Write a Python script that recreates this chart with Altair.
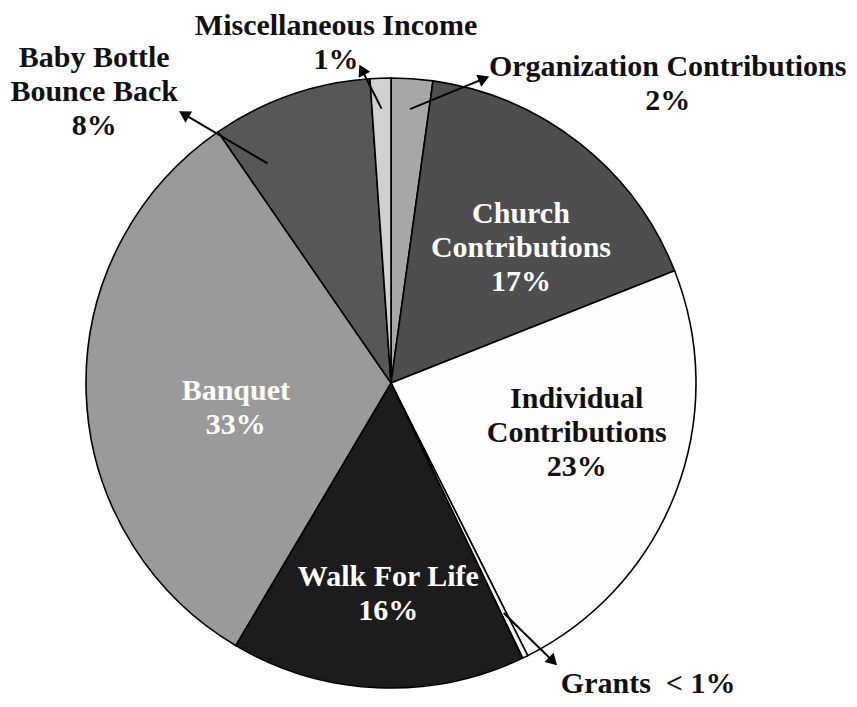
import altair as alt
import pandas as pd
import numpy as np

# ---------------- data ----------------
categories = [
    "Organization Contributions",
    "Church Contributions",
    "Individual Contributions",
    "Grants",
    "Walk For Life",
    "Banquet",
    "Baby Bottle Bounce Back",
    "Miscellaneous Income",
]
shares = [2.2, 16.8, 23.6, 0.3, 15.6, 31.9, 8.5, 1.1]
label_texts = [
    "Organization Contributions\n2%",
    "Church\nContributions\n17%",
    "Individual\nContributions\n23%",
    "Grants\u00a0\u00a0< 1%",
    "Walk For Life\n16%",
    "Banquet\n33%",
    "Baby Bottle\nBounce Back\n8%",
    "Miscellaneous Income\n1%",
]

# ---------------- style / layout ----------------
fill_colors = ["#a7a7a7", "#4e4e4e", "#fdfdfd", "#f2f2f2", "#1c1c1c", "#9a9a9a", "#575757", "#d0d0d0"]
text_colors = ["#111111", "#ffffff", "#111111", "#111111", "#ffffff", "#ffffff", "#111111", "#111111"]
# label placement relative to slice mid-angle: (angle shift in degrees, radius fraction)
label_layout = [(38.8, 1.336), (5.7, 0.615), (-5.7, 0.631), (-14.4, 1.298),
                (-1.8, 0.692), (-7.0, 0.515), (-26.3, 1.363), (-7.2, 1.129)]
# arrows: slice index -> (tail shift, tail radius, head shift, head radius)
arrow_layout = {0: (0.0, 0.90, 13.6, 1.052),
                3: (0.0, 0.84, -4.3, 1.069),
                6: (-10.1, 0.826, -18.6, 1.125),
                7: (0.0, 0.90, -3.6, 1.044)}

W, H = 841, 691
CX, CY = 383, 375          # pie centre inside the plot area (pixels)
R = 305                    # pie radius (pixels)
FS, LH = 30, 34            # font size, line height

xs = alt.Scale(domain=[-CX, W - CX], nice=False, zero=False)
ys = alt.Scale(domain=[-(H - CY), CY], nice=False, zero=False)

# ---------------- derived geometry ----------------
cum = np.concatenate([[0.0], np.cumsum(shares)])
mid_deg = (cum[:-1] + cum[1:]) / 2 / cum[-1] * 360.0


def polar(deg, rho):
    t = np.radians(deg)
    return rho * R * np.sin(t), rho * R * np.cos(t)


slices = pd.DataFrame({"category": categories, "share": shares, "idx": list(range(len(categories)))})

lab_rows = []
for i, txt in enumerate(label_texts):
    dth, rho = label_layout[i]
    x, y = polar(mid_deg[i] + dth, rho)
    n_lines = txt.count("\n") + 1
    y += (n_lines - 1) * LH / 2.0   # first line sits on the anchor: centre the block
    lab_rows.append({"text": txt, "x": x, "y": y, "tcolor": text_colors[i]})
labels = pd.DataFrame(lab_rows)

arr_rows, head_rows = [], []
for i, (tdth, trho, hdth, hrho) in arrow_layout.items():
    tx, ty = polar(mid_deg[i] + tdth, trho)
    hx, hy = polar(mid_deg[i] + hdth, hrho)
    dx, dy = hx - tx, hy - ty
    L = np.hypot(dx, dy)
    ang = np.degrees(np.arctan2(dx, dy)) % 360
    arr_rows.append({"x1": tx, "y1": ty, "x2": hx - dx / L * 8, "y2": hy - dy / L * 8})
    head_rows.append({"x": hx - dx / L * 6, "y": hy - dy / L * 6, "ang": ang})
arrows = pd.DataFrame(arr_rows)
heads = pd.DataFrame(head_rows)

# ---------------- chart ----------------
pie = alt.Chart(slices).mark_arc(outerRadius=R, stroke="#000000", strokeWidth=1.6).encode(
    theta=alt.Theta("share:Q", stack=True),
    color=alt.Color("category:N", scale=alt.Scale(domain=categories, range=fill_colors), legend=None),
    order=alt.Order("idx:Q"),
    x=alt.XDatum(0, scale=xs, axis=None),
    y=alt.YDatum(0, scale=ys, axis=None),
)

lines = alt.Chart(arrows).mark_rule(color="#000000", strokeWidth=2).encode(
    x=alt.X("x1:Q", scale=xs, axis=None),
    y=alt.Y("y1:Q", scale=ys, axis=None),
    x2="x2:Q",
    y2="y2:Q",
)

tips = alt.Chart(heads).mark_point(shape="triangle", filled=True, size=170, color="#000000", opacity=1).encode(
    x=alt.X("x:Q", scale=xs, axis=None),
    y=alt.Y("y:Q", scale=ys, axis=None),
    angle=alt.Angle("ang:Q", scale=None),
)

text = alt.Chart(labels).mark_text(
    font="Liberation Serif", fontWeight="bold", fontSize=FS, lineBreak="\n",
    lineHeight=LH, align="center", baseline="middle",
).encode(
    x=alt.X("x:Q", scale=xs, axis=None),
    y=alt.Y("y:Q", scale=ys, axis=None),
    text="text:N",
    color=alt.Color("tcolor:N", scale=None),
)

chart = alt.layer(pie, lines, tips, text).properties(
    width=W, height=H, padding=0, autosize="none", background="#ffffff"
).configure_view(stroke=None)

chart.save("out.html", embed_options={"renderer": "svg", "actions": False})
